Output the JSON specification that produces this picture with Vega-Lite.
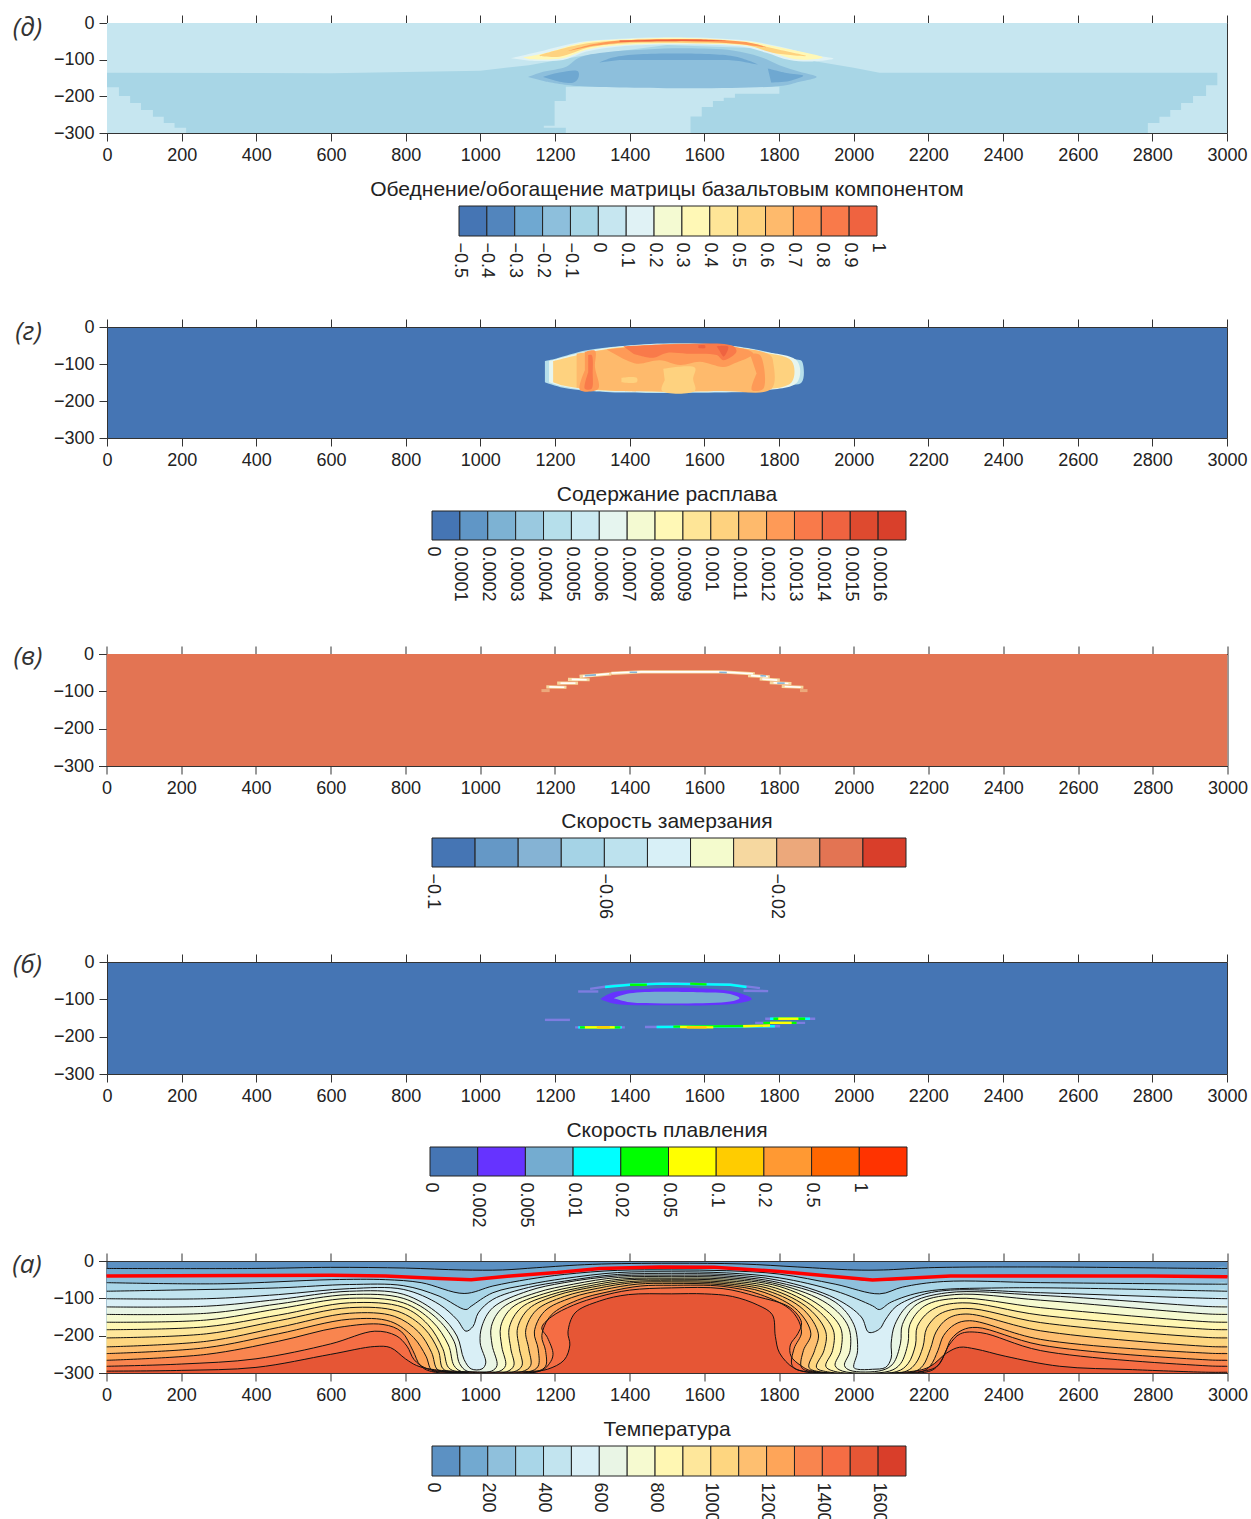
{"$schema":"https://vega.github.io/schema/vega-lite/v6.json","background":"white","padding":{"left":11.5,"top":14,"right":0,"bottom":0},"bounds":"flush","center":true,"spacing":0,"resolve":{"scale":{"fill":"independent","stroke":"independent","x":"independent","y":"independent"}},
"config":{"view":{"stroke":null},"axis":{"grid":false,"domainColor":"#333","tickColor":"#333","tickSize":8,"labelFont":"Liberation Sans","labelFontSize":18,"labelColor":"#222","labelPadding":5,"labelOverlap":false,"labelBound":false,"labelFlush":false},"title":{"font":"Liberation Sans","fontSize":21,"fontWeight":"normal","color":"#222","offset":6}},
"datasets":{
"dp":[{"p":0,"v":0,"x":0,"y":0},{"p":0,"v":0,"x":3000,"y":0},{"p":0,"v":0,"x":3000,"y":-300},{"p":0,"v":0,"x":0,"y":-300},
{"p":1,"v":-0.1,"x":0,"y":-136},{"p":1,"v":-0.1,"x":600,"y":-137},{"p":1,"v":-0.1,"x":1000,"y":-130},{"p":1,"v":-0.1,"x":1130,"y":-115},{"p":1,"v":-0.1,"x":1270,"y":-90},{"p":1,"v":-0.1,"x":1500,"y":-60},{"p":1,"v":-0.1,"x":1770,"y":-70},{"p":1,"v":-0.1,"x":1900,"y":-105},{"p":1,"v":-0.1,"x":2000,"y":-122},{"p":1,"v":-0.1,"x":2069,"y":-136},{"p":1,"v":-0.1,"x":2974,"y":-136},{"p":1,"v":-0.1,"x":2974,"y":-170},{"p":1,"v":-0.1,"x":2944,"y":-170},{"p":1,"v":-0.1,"x":2944,"y":-199},{"p":1,"v":-0.1,"x":2909,"y":-199},{"p":1,"v":-0.1,"x":2909,"y":-218},{"p":1,"v":-0.1,"x":2877,"y":-218},{"p":1,"v":-0.1,"x":2877,"y":-237},{"p":1,"v":-0.1,"x":2848,"y":-237},{"p":1,"v":-0.1,"x":2848,"y":-256},{"p":1,"v":-0.1,"x":2819,"y":-256},{"p":1,"v":-0.1,"x":2819,"y":-273},{"p":1,"v":-0.1,"x":2788,"y":-273},{"p":1,"v":-0.1,"x":2788,"y":-300},{"p":1,"v":-0.1,"x":212,"y":-300},{"p":1,"v":-0.1,"x":212,"y":-286},{"p":1,"v":-0.1,"x":181,"y":-286},{"p":1,"v":-0.1,"x":181,"y":-273},{"p":1,"v":-0.1,"x":152,"y":-273},{"p":1,"v":-0.1,"x":152,"y":-256},{"p":1,"v":-0.1,"x":123,"y":-256},{"p":1,"v":-0.1,"x":123,"y":-237},{"p":1,"v":-0.1,"x":91,"y":-237},{"p":1,"v":-0.1,"x":91,"y":-218},{"p":1,"v":-0.1,"x":62,"y":-218},{"p":1,"v":-0.1,"x":62,"y":-199},{"p":1,"v":-0.1,"x":32,"y":-199},{"p":1,"v":-0.1,"x":32,"y":-175},{"p":1,"v":-0.1,"x":0,"y":-175},
{"p":2,"v":0,"x":1229,"y":-174},{"p":2,"v":0,"x":1801,"y":-174},{"p":2,"v":0,"x":1801,"y":-193},{"p":2,"v":0,"x":1682,"y":-193},{"p":2,"v":0,"x":1682,"y":-204},{"p":2,"v":0,"x":1652,"y":-204},{"p":2,"v":0,"x":1652,"y":-213},{"p":2,"v":0,"x":1623,"y":-213},{"p":2,"v":0,"x":1623,"y":-229},{"p":2,"v":0,"x":1593,"y":-229},{"p":2,"v":0,"x":1593,"y":-255},{"p":2,"v":0,"x":1563,"y":-255},{"p":2,"v":0,"x":1563,"y":-300},{"p":2,"v":0,"x":1229,"y":-300},{"p":2,"v":0,"x":1229,"y":-286},{"p":2,"v":0,"x":1170,"y":-286},{"p":2,"v":0,"x":1170,"y":-280},{"p":2,"v":0,"x":1199,"y":-280},{"p":2,"v":0,"x":1199,"y":-213},{"p":2,"v":0,"x":1229,"y":-213},
{"p":3,"v":-0.2,"x":1128,"y":-147},{"p":3,"v":-0.2,"x":1168,"y":-133},{"p":3,"v":-0.2,"x":1230,"y":-119},{"p":3,"v":-0.2,"x":1266,"y":-94},{"p":3,"v":-0.2,"x":1355,"y":-78},{"p":3,"v":-0.2,"x":1444,"y":-72},{"p":3,"v":-0.2,"x":1551,"y":-69},{"p":3,"v":-0.2,"x":1676,"y":-75},{"p":3,"v":-0.2,"x":1748,"y":-92},{"p":3,"v":-0.2,"x":1801,"y":-115},{"p":3,"v":-0.2,"x":1855,"y":-133},{"p":3,"v":-0.2,"x":1901,"y":-147},{"p":3,"v":-0.2,"x":1855,"y":-160},{"p":3,"v":-0.2,"x":1801,"y":-172},{"p":3,"v":-0.2,"x":1266,"y":-172},{"p":3,"v":-0.2,"x":1177,"y":-160},
{"p":4,"v":-0.3,"x":1318,"y":-108},{"p":4,"v":-0.3,"x":1355,"y":-94},{"p":4,"v":-0.3,"x":1427,"y":-85},{"p":4,"v":-0.3,"x":1623,"y":-85},{"p":4,"v":-0.3,"x":1685,"y":-92},{"p":4,"v":-0.3,"x":1743,"y":-113},{"p":4,"v":-0.3,"x":1685,"y":-103},{"p":4,"v":-0.3,"x":1623,"y":-101},{"p":4,"v":-0.3,"x":1373,"y":-101},
{"p":5,"v":-0.3,"x":1168,"y":-147},{"p":5,"v":-0.3,"x":1212,"y":-135},{"p":5,"v":-0.3,"x":1262,"y":-132},{"p":5,"v":-0.3,"x":1262,"y":-151},{"p":5,"v":-0.3,"x":1248,"y":-163},{"p":5,"v":-0.3,"x":1204,"y":-158},
{"p":6,"v":-0.3,"x":1770,"y":-124},{"p":6,"v":-0.3,"x":1828,"y":-138},{"p":6,"v":-0.3,"x":1865,"y":-144},{"p":6,"v":-0.3,"x":1828,"y":-158},{"p":6,"v":-0.3,"x":1779,"y":-162},
{"p":7,"v":0.1,"x":1083,"y":-96},{"p":7,"v":0.1,"x":1159,"y":-78},{"p":7,"v":0.1,"x":1266,"y":-52},{"p":7,"v":0.1,"x":1355,"y":-44},{"p":7,"v":0.1,"x":1534,"y":-39},{"p":7,"v":0.1,"x":1712,"y":-48},{"p":7,"v":0.1,"x":1801,"y":-64},{"p":7,"v":0.1,"x":1890,"y":-87},{"p":7,"v":0.1,"x":1946,"y":-97},{"p":7,"v":0.1,"x":1890,"y":-105},{"p":7,"v":0.1,"x":1828,"y":-101},{"p":7,"v":0.1,"x":1766,"y":-81},{"p":7,"v":0.1,"x":1712,"y":-66},{"p":7,"v":0.1,"x":1623,"y":-60},{"p":7,"v":0.1,"x":1444,"y":-60},{"p":7,"v":0.1,"x":1355,"y":-66},{"p":7,"v":0.1,"x":1284,"y":-78},{"p":7,"v":0.1,"x":1221,"y":-101},{"p":7,"v":0.1,"x":1132,"y":-103},
{"p":8,"v":0.3,"x":1114,"y":-94},{"p":8,"v":0.3,"x":1177,"y":-81},{"p":8,"v":0.3,"x":1266,"y":-55},{"p":8,"v":0.3,"x":1355,"y":-46},{"p":8,"v":0.3,"x":1534,"y":-40},{"p":8,"v":0.3,"x":1712,"y":-50},{"p":8,"v":0.3,"x":1801,"y":-66},{"p":8,"v":0.3,"x":1917,"y":-94},{"p":8,"v":0.3,"x":1846,"y":-99},{"p":8,"v":0.3,"x":1766,"y":-75},{"p":8,"v":0.3,"x":1712,"y":-62},{"p":8,"v":0.3,"x":1623,"y":-57},{"p":8,"v":0.3,"x":1444,"y":-57},{"p":8,"v":0.3,"x":1355,"y":-62},{"p":8,"v":0.3,"x":1284,"y":-73},{"p":8,"v":0.3,"x":1221,"y":-96},{"p":8,"v":0.3,"x":1132,"y":-99},
{"p":9,"v":0.5,"x":1159,"y":-87},{"p":9,"v":0.5,"x":1266,"y":-59},{"p":9,"v":0.5,"x":1373,"y":-48},{"p":9,"v":0.5,"x":1578,"y":-44},{"p":9,"v":0.5,"x":1712,"y":-54},{"p":9,"v":0.5,"x":1801,"y":-73},{"p":9,"v":0.5,"x":1873,"y":-90},{"p":9,"v":0.5,"x":1783,"y":-81},{"p":9,"v":0.5,"x":1712,"y":-60},{"p":9,"v":0.5,"x":1578,"y":-55},{"p":9,"v":0.5,"x":1400,"y":-55},{"p":9,"v":0.5,"x":1293,"y":-66},{"p":9,"v":0.5,"x":1212,"y":-92},{"p":9,"v":0.5,"x":1159,"y":-90},
{"p":10,"v":0.7,"x":1230,"y":-78},{"p":10,"v":0.7,"x":1284,"y":-62},{"p":10,"v":0.7,"x":1373,"y":-48},{"p":10,"v":0.7,"x":1578,"y":-44},{"p":10,"v":0.7,"x":1712,"y":-52},{"p":10,"v":0.7,"x":1766,"y":-66},{"p":10,"v":0.7,"x":1694,"y":-57},{"p":10,"v":0.7,"x":1578,"y":-51},{"p":10,"v":0.7,"x":1400,"y":-52},{"p":10,"v":0.7,"x":1293,"y":-64},
{"p":11,"v":0.9,"x":1373,"y":-48},{"p":11,"v":0.9,"x":1578,"y":-45},{"p":11,"v":0.9,"x":1658,"y":-49},{"p":11,"v":0.9,"x":1578,"y":-49},{"p":11,"v":0.9,"x":1373,"y":-51}],
"gp":[
{"p":1,"v":0.0004,"x":1173,"y":-92},{"p":1,"v":0.0004,"x":1204,"y":-85},{"p":1,"v":0.0004,"x":1285,"y":-63},{"p":1,"v":0.0004,"x":1374,"y":-52},{"p":1,"v":0.0004,"x":1508,"y":-44},{"p":1,"v":0.0004,"x":1660,"y":-49},{"p":1,"v":0.0004,"x":1749,"y":-63},{"p":1,"v":0.0004,"x":1847,"y":-88},{"p":1,"v":0.0004,"x":1861,"y":-92},{"p":1,"v":0.0004,"x":1861,"y":-149},{"p":1,"v":0.0004,"x":1811,"y":-158},{"p":1,"v":0.0004,"x":1749,"y":-173},{"p":1,"v":0.0004,"x":1642,"y":-177},{"p":1,"v":0.0004,"x":1374,"y":-177},{"p":1,"v":0.0004,"x":1285,"y":-172},{"p":1,"v":0.0004,"x":1222,"y":-164},{"p":1,"v":0.0004,"x":1173,"y":-149},
{"p":2,"v":0.0006,"x":1184,"y":-92},{"p":2,"v":0.0006,"x":1285,"y":-66},{"p":2,"v":0.0006,"x":1374,"y":-53},{"p":2,"v":0.0006,"x":1508,"y":-46},{"p":2,"v":0.0006,"x":1660,"y":-51},{"p":2,"v":0.0006,"x":1749,"y":-65},{"p":2,"v":0.0006,"x":1849,"y":-92},{"p":2,"v":0.0006,"x":1849,"y":-149},{"p":2,"v":0.0006,"x":1749,"y":-172},{"p":2,"v":0.0006,"x":1642,"y":-175},{"p":2,"v":0.0006,"x":1374,"y":-175},{"p":2,"v":0.0006,"x":1285,"y":-170},{"p":2,"v":0.0006,"x":1222,"y":-161},{"p":2,"v":0.0006,"x":1184,"y":-149},
{"p":3,"v":0.001,"x":1195,"y":-92},{"p":3,"v":0.001,"x":1285,"y":-70},{"p":3,"v":0.001,"x":1374,"y":-55},{"p":3,"v":0.001,"x":1508,"y":-48},{"p":3,"v":0.001,"x":1660,"y":-53},{"p":3,"v":0.001,"x":1749,"y":-67},{"p":3,"v":0.001,"x":1834,"y":-92},{"p":3,"v":0.001,"x":1834,"y":-149},{"p":3,"v":0.001,"x":1749,"y":-170},{"p":3,"v":0.001,"x":1642,"y":-173},{"p":3,"v":0.001,"x":1374,"y":-173},{"p":3,"v":0.001,"x":1285,"y":-168},{"p":3,"v":0.001,"x":1222,"y":-158},{"p":3,"v":0.001,"x":1195,"y":-149},
{"p":4,"v":0.0011,"x":1258,"y":-72},{"p":4,"v":0.0011,"x":1374,"y":-58},{"p":4,"v":0.0011,"x":1660,"y":-55},{"p":4,"v":0.0011,"x":1776,"y":-76},{"p":4,"v":0.0011,"x":1785,"y":-99},{"p":4,"v":0.0011,"x":1780,"y":-167},{"p":4,"v":0.0011,"x":1642,"y":-173},{"p":4,"v":0.0011,"x":1374,"y":-173},{"p":4,"v":0.0011,"x":1258,"y":-164},
{"p":5,"v":0.0012,"x":1338,"y":-61},{"p":5,"v":0.0012,"x":1508,"y":-46},{"p":5,"v":0.0012,"x":1678,"y":-53},{"p":5,"v":0.0012,"x":1731,"y":-72},{"p":5,"v":0.0012,"x":1678,"y":-99},{"p":5,"v":0.0012,"x":1651,"y":-108},{"p":5,"v":0.0012,"x":1588,"y":-94},{"p":5,"v":0.0012,"x":1535,"y":-103},{"p":5,"v":0.0012,"x":1481,"y":-90},{"p":5,"v":0.0012,"x":1419,"y":-99},{"p":5,"v":0.0012,"x":1374,"y":-81},
{"p":6,"v":0.0013,"x":1383,"y":-52},{"p":6,"v":0.0013,"x":1508,"y":-47},{"p":6,"v":0.0013,"x":1678,"y":-52},{"p":6,"v":0.0013,"x":1686,"y":-67},{"p":6,"v":0.0013,"x":1651,"y":-90},{"p":6,"v":0.0013,"x":1633,"y":-76},{"p":6,"v":0.0013,"x":1553,"y":-72},{"p":6,"v":0.0013,"x":1499,"y":-70},{"p":6,"v":0.0013,"x":1463,"y":-83},{"p":6,"v":0.0013,"x":1410,"y":-72},
{"p":7,"v":0.0014,"x":1633,"y":-52},{"p":7,"v":0.0014,"x":1664,"y":-53},{"p":7,"v":0.0014,"x":1652,"y":-80},{"p":7,"v":0.0014,"x":1642,"y":-66},
{"p":8,"v":0.0014,"x":1584,"y":-50},{"p":8,"v":0.0014,"x":1602,"y":-50},{"p":8,"v":0.0014,"x":1602,"y":-57},{"p":8,"v":0.0014,"x":1584,"y":-57},
{"p":9,"v":0.0012,"x":1280,"y":-67},{"p":9,"v":0.0012,"x":1307,"y":-64},{"p":9,"v":0.0012,"x":1307,"y":-108},{"p":9,"v":0.0012,"x":1316,"y":-167},{"p":9,"v":0.0012,"x":1267,"y":-170},{"p":9,"v":0.0012,"x":1280,"y":-117},
{"p":10,"v":0.0013,"x":1289,"y":-76},{"p":10,"v":0.0013,"x":1298,"y":-76},{"p":10,"v":0.0013,"x":1301,"y":-126},{"p":10,"v":0.0013,"x":1298,"y":-167},{"p":10,"v":0.0013,"x":1280,"y":-167},{"p":10,"v":0.0013,"x":1289,"y":-122},
{"p":11,"v":0.0012,"x":1722,"y":-72},{"p":11,"v":0.0012,"x":1749,"y":-76},{"p":11,"v":0.0012,"x":1758,"y":-167},{"p":11,"v":0.0012,"x":1727,"y":-170},{"p":11,"v":0.0012,"x":1740,"y":-126},
{"p":12,"v":0.001,"x":1490,"y":-113},{"p":12,"v":0.001,"x":1575,"y":-110},{"p":12,"v":0.001,"x":1570,"y":-140},{"p":12,"v":0.001,"x":1575,"y":-172},{"p":12,"v":0.001,"x":1486,"y":-172},{"p":12,"v":0.001,"x":1494,"y":-144},
{"p":13,"v":0.001,"x":1378,"y":-137},{"p":13,"v":0.001,"x":1419,"y":-137},{"p":13,"v":0.001,"x":1419,"y":-149},{"p":13,"v":0.001,"x":1378,"y":-149}],
"bp":[
{"p":1,"v":0.002,"x":1321,"y":-99},{"p":1,"v":0.002,"x":1356,"y":-81},{"p":1,"v":0.002,"x":1446,"y":-72},{"p":1,"v":0.002,"x":1580,"y":-70},{"p":1,"v":0.002,"x":1687,"y":-81},{"p":1,"v":0.002,"x":1727,"y":-99},{"p":1,"v":0.002,"x":1687,"y":-111},{"p":1,"v":0.002,"x":1490,"y":-116},{"p":1,"v":0.002,"x":1356,"y":-111},{"p":1,"v":0.002,"x":1321,"y":-99},
{"p":2,"v":0.005,"x":1358,"y":-97},{"p":2,"v":0.005,"x":1401,"y":-84},{"p":2,"v":0.005,"x":1580,"y":-81},{"p":2,"v":0.005,"x":1669,"y":-86},{"p":2,"v":0.005,"x":1694,"y":-97},{"p":2,"v":0.005,"x":1669,"y":-106},{"p":2,"v":0.005,"x":1490,"y":-111},{"p":2,"v":0.005,"x":1401,"y":-108},{"p":2,"v":0.005,"x":1358,"y":-97}],
"bs":[{"s":1,"v":"b","x":1294,"y":-72},{"s":1,"v":"b","x":1356,"y":-63},{"s":1,"v":"b","x":1490,"y":-57},{"s":1,"v":"b","x":1669,"y":-60},{"s":1,"v":"b","x":1749,"y":-70},
{"s":2,"v":"b","x":1262,"y":-79},{"s":2,"v":"b","x":1316,"y":-79},{"s":3,"v":"b","x":1705,"y":-77},{"s":3,"v":"b","x":1771,"y":-78},{"s":4,"v":"b","x":1173,"y":-155},{"s":4,"v":"b","x":1240,"y":-155},
{"s":5,"v":"c","x":1334,"y":-67},{"s":5,"v":"c","x":1401,"y":-61},{"s":5,"v":"c","x":1490,"y":-58},{"s":5,"v":"c","x":1669,"y":-61},{"s":5,"v":"c","x":1713,"y":-67},
{"s":6,"v":"g","x":1401,"y":-61},{"s":6,"v":"g","x":1446,"y":-61},{"s":7,"v":"g","x":1562,"y":-58},{"s":7,"v":"g","x":1606,"y":-60},
{"s":8,"v":"b","x":1254,"y":-175},{"s":8,"v":"b","x":1387,"y":-175},{"s":9,"v":"c","x":1262,"y":-175},{"s":9,"v":"c","x":1379,"y":-175},{"s":10,"v":"g","x":1267,"y":-175},{"s":10,"v":"g","x":1375,"y":-175},{"s":11,"v":"y","x":1280,"y":-175},{"s":11,"v":"y","x":1360,"y":-175},{"s":12,"v":"o","x":1312,"y":-175},{"s":12,"v":"o","x":1347,"y":-175},
{"s":13,"v":"b","x":1441,"y":-174},{"s":13,"v":"b","x":1803,"y":-172},{"s":14,"v":"c","x":1472,"y":-174},{"s":14,"v":"c","x":1789,"y":-172},{"s":15,"v":"g","x":1517,"y":-173},{"s":15,"v":"g","x":1758,"y":-171},{"s":16,"v":"y","x":1535,"y":-174},{"s":16,"v":"y","x":1624,"y":-175},{"s":17,"v":"y","x":1704,"y":-172},{"s":17,"v":"y","x":1776,"y":-170},{"s":18,"v":"o","x":1553,"y":-175},{"s":18,"v":"o","x":1606,"y":-175},
{"s":19,"v":"b","x":1736,"y":-163},{"s":19,"v":"b","x":1870,"y":-163},{"s":20,"v":"g","x":1758,"y":-163},{"s":20,"v":"g","x":1847,"y":-163},{"s":21,"v":"y","x":1776,"y":-163},{"s":21,"v":"y","x":1834,"y":-163},
{"s":22,"v":"b","x":1763,"y":-152},{"s":22,"v":"b","x":1897,"y":-152},{"s":23,"v":"c","x":1776,"y":-152},{"s":23,"v":"c","x":1883,"y":-152},{"s":24,"v":"g","x":1785,"y":-152},{"s":24,"v":"g","x":1870,"y":-152},{"s":25,"v":"y","x":1798,"y":-152},{"s":25,"v":"y","x":1852,"y":-152}],
"vc":[{"s":1,"x":1177,"y":-88},{"s":1,"x":1231,"y":-89},{"s":2,"x":1206,"y":-78},{"s":2,"x":1262,"y":-78},{"s":3,"x":1235,"y":-68},{"s":3,"x":1293,"y":-69},{"s":4,"x":1266,"y":-60},{"s":4,"x":1351,"y":-53},{"s":5,"x":1351,"y":-52},{"s":5,"x":1431,"y":-48},{"s":5,"x":1646,"y":-48},{"s":5,"x":1735,"y":-53},{"s":6,"x":1717,"y":-58},{"s":6,"x":1775,"y":-61},{"s":7,"x":1748,"y":-67},{"s":7,"x":1802,"y":-70},{"s":8,"x":1775,"y":-77},{"s":8,"x":1833,"y":-79},{"s":9,"x":1807,"y":-87},{"s":9,"x":1865,"y":-89}],
"vt":[{"s":1,"x":1164,"y":-98},{"s":1,"x":1186,"y":-98},{"s":2,"x":1856,"y":-98},{"s":2,"x":1876,"y":-98}],
"vw":[{"s":1,"v":"w","x":1185,"y":-88},{"s":1,"v":"w","x":1225,"y":-89},{"s":3,"v":"w","x":1215,"y":-78},{"s":3,"v":"w","x":1255,"y":-78},{"s":4,"v":"w","x":1245,"y":-68},{"s":4,"v":"w","x":1285,"y":-69},{"s":5,"v":"w","x":1275,"y":-60},{"s":5,"v":"w","x":1345,"y":-53},{"s":6,"v":"w","x":1351,"y":-51},{"s":6,"v":"w","x":1431,"y":-48},{"s":6,"v":"w","x":1646,"y":-48},{"s":6,"v":"w","x":1730,"y":-53},{"s":7,"v":"w","x":1725,"y":-58},{"s":7,"v":"w","x":1770,"y":-61},{"s":8,"v":"w","x":1755,"y":-67},{"s":8,"v":"w","x":1795,"y":-70},{"s":9,"v":"w","x":1785,"y":-77},{"s":9,"v":"w","x":1825,"y":-79},{"s":10,"v":"w","x":1815,"y":-87},{"s":10,"v":"w","x":1858,"y":-89},
{"s":11,"v":"b","x":1280,"y":-58},{"s":11,"v":"b","x":1310,"y":-56},{"s":12,"v":"b","x":1400,"y":-49},{"s":12,"v":"b","x":1420,"y":-49},{"s":13,"v":"b","x":1640,"y":-49},{"s":13,"v":"b","x":1660,"y":-50},{"s":14,"v":"b","x":1750,"y":-58},{"s":14,"v":"b","x":1765,"y":-59},{"s":15,"v":"b","x":1795,"y":-78},{"s":15,"v":"b","x":1815,"y":-78}],
"red":[{"x":0,"y":-40},{"x":364,"y":-39},{"x":603,"y":-38},{"x":746,"y":-40},{"x":890,"y":-47},{"x":976,"y":-50},{"x":1081,"y":-40},{"x":1206,"y":-31},{"x":1321,"y":-20},{"x":1481,"y":-16},{"x":1626,"y":-17},{"x":1801,"y":-28},{"x":2050,"y":-51},{"x":2259,"y":-40},{"x":2794,"y":-40},{"x":3000,"y":-42}],
"iso":[
{"k":100,"x":0,"y":-20},{"k":100,"x":400,"y":-20},{"k":100,"x":600,"y":-17},{"k":100,"x":800,"y":-19},{"k":100,"x":950,"y":-24},{"k":100,"x":1060,"y":-24},{"k":100,"x":1150,"y":-18},{"k":100,"x":1300,"y":-9},{"k":100,"x":1512,"y":-6},{"k":100,"x":1700,"y":-8},{"k":100,"x":1850,"y":-16},{"k":100,"x":2000,"y":-24},{"k":100,"x":2080,"y":-24},{"k":100,"x":2200,"y":-18},{"k":100,"x":2500,"y":-16},{"k":100,"x":2950,"y":-20},{"k":100,"x":3000,"y":-20},{"k":100,"c":1,"x":3000,"y":-300},{"k":100,"c":1,"x":0,"y":-300},
{"k":200,"x":0,"y":-40},{"k":200,"x":400,"y":-39},{"k":200,"x":600,"y":-38},{"k":200,"x":750,"y":-40},{"k":200,"x":890,"y":-47},{"k":200,"x":980,"y":-50},{"k":200,"x":1080,"y":-40},{"k":200,"x":1200,"y":-31},{"k":200,"x":1320,"y":-20},{"k":200,"x":1512,"y":-16},{"k":200,"x":1626,"y":-17},{"k":200,"x":1800,"y":-28},{"k":200,"x":1950,"y":-42},{"k":200,"x":2050,"y":-52},{"k":200,"x":2260,"y":-40},{"k":200,"x":2800,"y":-40},{"k":200,"x":2950,"y":-42},{"k":200,"x":3000,"y":-42},{"k":200,"c":1,"x":3000,"y":-300},{"k":200,"c":1,"x":0,"y":-300},
{"k":300,"x":0,"y":-58},{"k":300,"x":306,"y":-61},{"k":300,"x":603,"y":-50},{"k":300,"x":746,"y":-50},{"k":300,"x":842,"y":-58},{"k":300,"x":957,"y":-87},{"k":300,"x":1034,"y":-67},{"k":300,"x":1129,"y":-49},{"k":300,"x":1225,"y":-36},{"k":300,"x":1368,"y":-25},{"k":300,"x":1512,"y":-24},{"k":300,"x":1660,"y":-26},{"k":300,"x":1800,"y":-35},{"k":300,"x":1950,"y":-62},{"k":300,"x":2069,"y":-88},{"k":300,"x":2130,"y":-70},{"k":300,"x":2240,"y":-55},{"k":300,"x":2500,"y":-58},{"k":300,"x":2950,"y":-62},{"k":300,"x":3000,"y":-62},{"k":300,"c":1,"x":3000,"y":-300},{"k":300,"c":1,"x":0,"y":-300},
{"k":400,"x":0,"y":-81},{"k":400,"x":172,"y":-78},{"k":400,"x":460,"y":-72},{"k":400,"x":650,"y":-63},{"k":400,"x":794,"y":-66},{"k":400,"x":890,"y":-94},{"k":400,"x":962,"y":-130},{"k":400,"x":976,"y":-121},{"k":400,"x":1034,"y":-85},{"k":400,"x":1129,"y":-63},{"k":400,"x":1225,"y":-47},{"k":400,"x":1368,"y":-31},{"k":400,"x":1512,"y":-29},{"k":400,"x":1660,"y":-32},{"k":400,"x":1800,"y":-45},{"k":400,"x":1950,"y":-80},{"k":400,"x":2050,"y":-120},{"k":400,"x":2068,"y":-130},{"k":400,"x":2100,"y":-110},{"k":400,"x":2190,"y":-82},{"k":400,"x":2400,"y":-72},{"k":400,"x":2950,"y":-80},{"k":400,"x":3000,"y":-81},{"k":400,"c":1,"x":3000,"y":-300},{"k":400,"c":1,"x":0,"y":-300},
{"k":500,"x":0,"y":-101},{"k":500,"x":268,"y":-101},{"k":500,"x":460,"y":-90},{"k":500,"x":650,"y":-74},{"k":500,"x":794,"y":-76},{"k":500,"x":890,"y":-116},{"k":500,"x":938,"y":-157},{"k":500,"x":962,"y":-188},{"k":500,"x":981,"y":-175},{"k":500,"x":995,"y":-139},{"k":500,"x":1034,"y":-103},{"k":500,"x":1129,"y":-71},{"k":500,"x":1225,"y":-54},{"k":500,"x":1368,"y":-36},{"k":500,"x":1512,"y":-34},{"k":500,"x":1650,"y":-36},{"k":500,"x":1800,"y":-52},{"k":500,"x":1950,"y":-100},{"k":500,"x":2020,"y":-150},{"k":500,"x":2040,"y":-191},{"k":500,"x":2069,"y":-182},{"k":500,"x":2084,"y":-158},{"k":500,"x":2113,"y":-122},{"k":500,"x":2181,"y":-91},{"k":500,"x":2259,"y":-78},{"k":500,"x":2500,"y":-85},{"k":500,"x":2950,"y":-100},{"k":500,"x":3000,"y":-101},{"k":500,"c":1,"x":3000,"y":-300},{"k":500,"c":1,"x":0,"y":-300},
{"k":600,"x":0,"y":-123},{"k":600,"x":268,"y":-121},{"k":600,"x":460,"y":-103},{"k":600,"x":650,"y":-81},{"k":600,"x":794,"y":-89},{"k":600,"x":890,"y":-143},{"k":600,"x":938,"y":-201},{"k":600,"x":957,"y":-264},{"k":600,"x":976,"y":-289},{"k":600,"x":1005,"y":-289},{"k":600,"x":1015,"y":-273},{"k":600,"x":1000,"y":-219},{"k":600,"x":1005,"y":-174},{"k":600,"x":1034,"y":-125},{"k":600,"x":1129,"y":-80},{"k":600,"x":1225,"y":-58},{"k":600,"x":1368,"y":-40},{"k":600,"x":1512,"y":-38},{"k":600,"x":1650,"y":-40},{"k":600,"x":1800,"y":-58},{"k":600,"x":1950,"y":-110},{"k":600,"x":2000,"y":-170},{"k":600,"x":2010,"y":-240},{"k":600,"x":2000,"y":-285},{"k":600,"x":2010,"y":-290},{"k":600,"x":2050,"y":-290},{"k":600,"x":2085,"y":-285},{"k":600,"x":2100,"y":-260},{"k":600,"x":2100,"y":-220},{"k":600,"x":2110,"y":-170},{"k":600,"x":2150,"y":-115},{"k":600,"x":2250,"y":-85},{"k":600,"x":2500,"y":-92},{"k":600,"x":2950,"y":-122},{"k":600,"x":3000,"y":-123},{"k":600,"c":1,"x":3000,"y":-300},{"k":600,"c":1,"x":0,"y":-300},
{"k":700,"x":0,"y":-143},{"k":700,"x":268,"y":-140},{"k":700,"x":460,"y":-115},{"k":700,"x":650,"y":-90},{"k":700,"x":794,"y":-100},{"k":700,"x":880,"y":-150},{"k":700,"x":930,"y":-215},{"k":700,"x":945,"y":-275},{"k":700,"x":965,"y":-295},{"k":700,"x":1030,"y":-295},{"k":700,"x":1045,"y":-280},{"k":700,"x":1032,"y":-225},{"k":700,"x":1030,"y":-175},{"k":700,"x":1060,"y":-125},{"k":700,"x":1150,"y":-85},{"k":700,"x":1250,"y":-62},{"k":700,"x":1370,"y":-44},{"k":700,"x":1512,"y":-42},{"k":700,"x":1650,"y":-44},{"k":700,"x":1800,"y":-63},{"k":700,"x":1930,"y":-115},{"k":700,"x":1985,"y":-175},{"k":700,"x":1990,"y":-240},{"k":700,"x":1975,"y":-280},{"k":700,"x":1990,"y":-293},{"k":700,"x":2075,"y":-293},{"k":700,"x":2105,"y":-275},{"k":700,"x":2125,"y":-220},{"k":700,"x":2130,"y":-170},{"k":700,"x":2170,"y":-115},{"k":700,"x":2270,"y":-90},{"k":700,"x":2500,"y":-105},{"k":700,"x":2950,"y":-142},{"k":700,"x":3000,"y":-143},{"k":700,"c":1,"x":3000,"y":-300},{"k":700,"c":1,"x":0,"y":-300},
{"k":800,"x":0,"y":-164},{"k":800,"x":268,"y":-158},{"k":800,"x":460,"y":-128},{"k":800,"x":650,"y":-100},{"k":800,"x":794,"y":-112},{"k":800,"x":870,"y":-160},{"k":800,"x":915,"y":-225},{"k":800,"x":930,"y":-280},{"k":800,"x":950,"y":-296},{"k":800,"x":1050,"y":-296},{"k":800,"x":1068,"y":-280},{"k":800,"x":1058,"y":-230},{"k":800,"x":1055,"y":-175},{"k":800,"x":1085,"y":-125},{"k":800,"x":1170,"y":-88},{"k":800,"x":1270,"y":-65},{"k":800,"x":1380,"y":-48},{"k":800,"x":1512,"y":-46},{"k":800,"x":1650,"y":-48},{"k":800,"x":1800,"y":-68},{"k":800,"x":1910,"y":-120},{"k":800,"x":1965,"y":-180},{"k":800,"x":1965,"y":-240},{"k":800,"x":1950,"y":-280},{"k":800,"x":1970,"y":-295},{"k":800,"x":2095,"y":-295},{"k":800,"x":2125,"y":-275},{"k":800,"x":2145,"y":-220},{"k":800,"x":2150,"y":-170},{"k":800,"x":2190,"y":-120},{"k":800,"x":2280,"y":-100},{"k":800,"x":2500,"y":-125},{"k":800,"x":2950,"y":-163},{"k":800,"x":3000,"y":-164},{"k":800,"c":1,"x":3000,"y":-300},{"k":800,"c":1,"x":0,"y":-300},
{"k":900,"x":0,"y":-184},{"k":900,"x":268,"y":-176},{"k":900,"x":460,"y":-145},{"k":900,"x":650,"y":-112},{"k":900,"x":794,"y":-124},{"k":900,"x":860,"y":-170},{"k":900,"x":900,"y":-235},{"k":900,"x":915,"y":-285},{"k":900,"x":940,"y":-297},{"k":900,"x":1070,"y":-297},{"k":900,"x":1090,"y":-280},{"k":900,"x":1082,"y":-235},{"k":900,"x":1078,"y":-178},{"k":900,"x":1110,"y":-125},{"k":900,"x":1190,"y":-90},{"k":900,"x":1285,"y":-68},{"k":900,"x":1390,"y":-51},{"k":900,"x":1512,"y":-49},{"k":900,"x":1650,"y":-52},{"k":900,"x":1790,"y":-72},{"k":900,"x":1895,"y":-125},{"k":900,"x":1945,"y":-185},{"k":900,"x":1943,"y":-240},{"k":900,"x":1925,"y":-282},{"k":900,"x":1950,"y":-296},{"k":900,"x":2115,"y":-296},{"k":900,"x":2145,"y":-275},{"k":900,"x":2165,"y":-225},{"k":900,"x":2170,"y":-175},{"k":900,"x":2210,"y":-130},{"k":900,"x":2290,"y":-112},{"k":900,"x":2500,"y":-145},{"k":900,"x":2950,"y":-183},{"k":900,"x":3000,"y":-184},{"k":900,"c":1,"x":3000,"y":-300},{"k":900,"c":1,"x":0,"y":-300},
{"k":1000,"x":0,"y":-206},{"k":1000,"x":268,"y":-195},{"k":1000,"x":460,"y":-160},{"k":1000,"x":650,"y":-125},{"k":1000,"x":780,"y":-135},{"k":1000,"x":850,"y":-180},{"k":1000,"x":888,"y":-240},{"k":1000,"x":900,"y":-288},{"k":1000,"x":925,"y":-297},{"k":1000,"x":1090,"y":-297},{"k":1000,"x":1112,"y":-280},{"k":1000,"x":1105,"y":-235},{"k":1000,"x":1100,"y":-180},{"k":1000,"x":1130,"y":-128},{"k":1000,"x":1205,"y":-92},{"k":1000,"x":1300,"y":-70},{"k":1000,"x":1400,"y":-55},{"k":1000,"x":1512,"y":-53},{"k":1000,"x":1650,"y":-56},{"k":1000,"x":1780,"y":-76},{"k":1000,"x":1880,"y":-128},{"k":1000,"x":1925,"y":-190},{"k":1000,"x":1920,"y":-240},{"k":1000,"x":1900,"y":-285},{"k":1000,"x":1930,"y":-297},{"k":1000,"x":2135,"y":-297},{"k":1000,"x":2165,"y":-275},{"k":1000,"x":2185,"y":-230},{"k":1000,"x":2195,"y":-180},{"k":1000,"x":2230,"y":-142},{"k":1000,"x":2300,"y":-127},{"k":1000,"x":2500,"y":-165},{"k":1000,"x":2950,"y":-205},{"k":1000,"x":3000,"y":-206},{"k":1000,"c":1,"x":3000,"y":-300},{"k":1000,"c":1,"x":0,"y":-300},
{"k":1100,"x":0,"y":-230},{"k":1100,"x":268,"y":-215},{"k":1100,"x":460,"y":-178},{"k":1100,"x":650,"y":-140},{"k":1100,"x":770,"y":-148},{"k":1100,"x":835,"y":-190},{"k":1100,"x":870,"y":-245},{"k":1100,"x":885,"y":-290},{"k":1100,"x":910,"y":-297},{"k":1100,"x":1110,"y":-297},{"k":1100,"x":1135,"y":-280},{"k":1100,"x":1130,"y":-235},{"k":1100,"x":1122,"y":-185},{"k":1100,"x":1150,"y":-132},{"k":1100,"x":1225,"y":-95},{"k":1100,"x":1315,"y":-73},{"k":1100,"x":1410,"y":-58},{"k":1100,"x":1512,"y":-56},{"k":1100,"x":1650,"y":-60},{"k":1100,"x":1770,"y":-80},{"k":1100,"x":1865,"y":-130},{"k":1100,"x":1905,"y":-195},{"k":1100,"x":1895,"y":-240},{"k":1100,"x":1880,"y":-285},{"k":1100,"x":1910,"y":-297},{"k":1100,"x":2160,"y":-297},{"k":1100,"x":2185,"y":-280},{"k":1100,"x":2205,"y":-235},{"k":1100,"x":2220,"y":-190},{"k":1100,"x":2250,"y":-155},{"k":1100,"x":2300,"y":-142},{"k":1100,"x":2500,"y":-187},{"k":1100,"x":2950,"y":-229},{"k":1100,"x":3000,"y":-230},{"k":1100,"c":1,"x":3000,"y":-300},{"k":1100,"c":1,"x":0,"y":-300},
{"k":1200,"x":0,"y":-248},{"k":1200,"x":268,"y":-232},{"k":1200,"x":460,"y":-195},{"k":1200,"x":650,"y":-156},{"k":1200,"x":760,"y":-162},{"k":1200,"x":822,"y":-205},{"k":1200,"x":855,"y":-255},{"k":1200,"x":870,"y":-292},{"k":1200,"x":895,"y":-297},{"k":1200,"x":1130,"y":-297},{"k":1200,"x":1155,"y":-282},{"k":1200,"x":1155,"y":-235},{"k":1200,"x":1145,"y":-190},{"k":1200,"x":1172,"y":-135},{"k":1200,"x":1245,"y":-98},{"k":1200,"x":1330,"y":-77},{"k":1200,"x":1420,"y":-62},{"k":1200,"x":1512,"y":-60},{"k":1200,"x":1650,"y":-64},{"k":1200,"x":1760,"y":-84},{"k":1200,"x":1850,"y":-133},{"k":1200,"x":1885,"y":-195},{"k":1200,"x":1865,"y":-240},{"k":1200,"x":1860,"y":-285},{"k":1200,"x":1890,"y":-297},{"k":1200,"x":2180,"y":-297},{"k":1200,"x":2205,"y":-280},{"k":1200,"x":2225,"y":-240},{"k":1200,"x":2240,"y":-200},{"k":1200,"x":2270,"y":-170},{"k":1200,"x":2310,"y":-160},{"k":1200,"x":2500,"y":-210},{"k":1200,"x":2950,"y":-247},{"k":1200,"x":3000,"y":-248},{"k":1200,"c":1,"x":3000,"y":-300},{"k":1200,"c":1,"x":0,"y":-300},
{"k":1300,"x":0,"y":-266},{"k":1300,"x":268,"y":-250},{"k":1300,"x":460,"y":-215},{"k":1300,"x":620,"y":-178},{"k":1300,"x":740,"y":-170},{"k":1300,"x":790,"y":-190},{"k":1300,"x":820,"y":-240},{"k":1300,"x":840,"y":-280},{"k":1300,"x":870,"y":-296},{"k":1300,"x":1150,"y":-296},{"k":1300,"x":1175,"y":-282},{"k":1300,"x":1175,"y":-240},{"k":1300,"x":1165,"y":-200},{"k":1300,"x":1190,"y":-145},{"k":1300,"x":1260,"y":-105},{"k":1300,"x":1345,"y":-82},{"k":1300,"x":1430,"y":-67},{"k":1300,"x":1512,"y":-65},{"k":1300,"x":1650,"y":-68},{"k":1300,"x":1750,"y":-90},{"k":1300,"x":1835,"y":-135},{"k":1300,"x":1860,"y":-190},{"k":1300,"x":1840,"y":-235},{"k":1300,"x":1835,"y":-280},{"k":1300,"x":1865,"y":-296},{"k":1300,"x":2200,"y":-296},{"k":1300,"x":2225,"y":-280},{"k":1300,"x":2245,"y":-245},{"k":1300,"x":2260,"y":-210},{"k":1300,"x":2290,"y":-185},{"k":1300,"x":2330,"y":-178},{"k":1300,"x":2500,"y":-225},{"k":1300,"x":2950,"y":-265},{"k":1300,"x":3000,"y":-266},{"k":1300,"c":1,"x":3000,"y":-300},{"k":1300,"c":1,"x":0,"y":-300},
{"k":1400,"x":0,"y":-282},{"k":1400,"x":200,"y":-276},{"k":1400,"x":400,"y":-262},{"k":1400,"x":600,"y":-222},{"k":1400,"x":718,"y":-188},{"k":1400,"x":775,"y":-200},{"k":1400,"x":804,"y":-228},{"k":1400,"x":823,"y":-264},{"k":1400,"x":852,"y":-286},{"k":1400,"x":890,"y":-295},{"k":1400,"x":1160,"y":-295},{"k":1400,"x":1185,"y":-275},{"k":1400,"x":1195,"y":-250},{"k":1400,"x":1180,"y":-205},{"k":1400,"x":1165,"y":-179},{"k":1400,"x":1190,"y":-150},{"k":1400,"x":1250,"y":-118},{"k":1400,"x":1320,"y":-95},{"k":1400,"x":1400,"y":-78},{"k":1400,"x":1512,"y":-72},{"k":1400,"x":1650,"y":-74},{"k":1400,"x":1740,"y":-95},{"k":1400,"x":1830,"y":-125},{"k":1400,"x":1860,"y":-165},{"k":1400,"x":1850,"y":-195},{"k":1400,"x":1830,"y":-225},{"k":1400,"x":1832,"y":-255},{"k":1400,"x":1858,"y":-280},{"k":1400,"x":1890,"y":-295},{"k":1400,"x":2180,"y":-296},{"k":1400,"x":2225,"y":-280},{"k":1400,"x":2255,"y":-225},{"k":1400,"x":2285,"y":-195},{"k":1400,"x":2340,"y":-192},{"k":1400,"x":2500,"y":-240},{"k":1400,"x":2950,"y":-281},{"k":1400,"x":3000,"y":-282},{"k":1400,"c":1,"x":3000,"y":-300},{"k":1400,"c":1,"x":0,"y":-300},
{"k":1500,"x":0,"y":-295},{"k":1500,"x":200,"y":-293},{"k":1500,"x":400,"y":-285},{"k":1500,"x":600,"y":-250},{"k":1500,"x":718,"y":-229},{"k":1500,"x":760,"y":-232},{"k":1500,"x":800,"y":-262},{"k":1500,"x":830,"y":-280},{"k":1500,"x":870,"y":-290},{"k":1500,"x":950,"y":-296},{"k":1500,"x":1130,"y":-296},{"k":1500,"x":1180,"y":-290},{"k":1500,"x":1225,"y":-265},{"k":1500,"x":1240,"y":-225},{"k":1500,"x":1235,"y":-190},{"k":1500,"x":1254,"y":-139},{"k":1500,"x":1320,"y":-107},{"k":1500,"x":1397,"y":-90},{"k":1500,"x":1512,"y":-88},{"k":1500,"x":1600,"y":-88},{"k":1500,"x":1675,"y":-95},{"k":1500,"x":1743,"y":-118},{"k":1500,"x":1782,"y":-144},{"k":1500,"x":1790,"y":-202},{"k":1500,"x":1801,"y":-246},{"k":1500,"x":1840,"y":-287},{"k":1500,"x":1889,"y":-298},{"k":1500,"x":2161,"y":-295},{"k":1500,"x":2205,"y":-282},{"k":1500,"x":2249,"y":-246},{"k":1500,"x":2283,"y":-231},{"k":1500,"x":2327,"y":-236},{"k":1500,"x":2405,"y":-255},{"k":1500,"x":2551,"y":-282},{"k":1500,"x":2746,"y":-291},{"k":1500,"x":2950,"y":-298},{"k":1500,"x":3000,"y":-298},{"k":1500,"c":1,"x":3000,"y":-300},{"k":1500,"c":1,"x":0,"y":-300}]
},
"vconcat":[
{"width":1120,"height":110,"resolve":{"axis":{"x":"independent","y":"independent"}},"layer":[
{"data":{"name":"dp"},"transform":[{"filter":"datum.p<3"}],"mark":{"type":"line","clip":true,"strokeWidth":0,"order":false},"encoding":{"x":{"field":"x","type":"quantitative","scale":{"domain":[0,3000],"nice":false},"axis":{"values":[0,200,400,600,800,1000,1200,1400,1600,1800,2000,2200,2400,2600,2800,3000],"format":"d","title":null}},"y":{"field":"y","type":"quantitative","scale":{"domain":[-300,0],"nice":false},"axis":{"values":[-300,-200,-100,0],"title":"(д)","titleAngle":0,"titleFont":"Open Sans","titleFontStyle":"italic","titleFontWeight":"normal","titleFontSize":26,"titleColor":"#333","titleX":-80,"titleY":4,"titleAlign":"center","titleBaseline":"middle"}},"fill":{"field":"v","type":"ordinal","legend":null,"scale":{"domain":[-0.5,-0.4,-0.3,-0.2,-0.1,0,0.1,0.2,0.3,0.4,0.5,0.6,0.7,0.8,0.9],"range":["#4575b4","#5285bd","#6fa8d1","#8dbfdc","#a8d6e6","#c6e6f0","#e0f2f5","#f4fad2","#fff8b6","#fee597","#fed27f","#feba6c","#fe9a57","#f97a4a","#ef6340"]}},"detail":{"field":"p"}}},
{"data":{"name":"dp"},"transform":[{"filter":"datum.p>=3"}],"mark":{"type":"line","clip":true,"strokeWidth":0,"order":false,"interpolate":"catmull-rom"},"encoding":{"x":{"field":"x","type":"quantitative","axis":null,"scale":{"domain":[0,3000],"nice":false}},"y":{"field":"y","type":"quantitative","axis":null,"scale":{"domain":[-300,0],"nice":false}},"fill":{"field":"v","type":"ordinal","legend":null,"scale":{"domain":[-0.5,-0.4,-0.3,-0.2,-0.1,0,0.1,0.2,0.3,0.4,0.5,0.6,0.7,0.8,0.9],"range":["#4575b4","#5285bd","#6fa8d1","#8dbfdc","#a8d6e6","#c6e6f0","#e0f2f5","#f4fad2","#fff8b6","#fee597","#fed27f","#feba6c","#fe9a57","#f97a4a","#ef6340"]}},"detail":{"field":"p"}}},
{"data":{"values":[]},"mark":"point","encoding":{"x":{"field":"x","type":"quantitative","scale":{"domain":[0,3000],"nice":false},"axis":{"orient":"top","labels":false,"values":[0,200,400,600,800,1000,1200,1400,1600,1800,2000,2200,2400,2600,2800,3000],"title":null}},"y":{"field":"y","type":"quantitative","scale":{"domain":[-300,0],"nice":false},"axis":{"orient":"right","labels":false,"ticks":false,"title":null}}}}]},
{"width":10,"height":73,"data":{"values":[]},"mark":"point","encoding":{}},
{"width":420,"height":30,"title":"Обеднение/обогащение матрицы базальтовым компонентом","data":{"values":[{"a":-0.5,"b":-0.4},{"a":-0.4,"b":-0.3},{"a":-0.3,"b":-0.2},{"a":-0.2,"b":-0.1},{"a":-0.1,"b":0},{"a":0,"b":0.1},{"a":0.1,"b":0.2},{"a":0.2,"b":0.3},{"a":0.3,"b":0.4},{"a":0.4,"b":0.5},{"a":0.5,"b":0.6},{"a":0.6,"b":0.7},{"a":0.7,"b":0.8},{"a":0.8,"b":0.9},{"a":0.9,"b":1}]},"mark":{"type":"rect","stroke":"#222","strokeWidth":1},"encoding":{"x":{"field":"a","type":"quantitative","scale":{"domain":[-0.5,1],"nice":false,"range":[2,420]},"axis":{"values":[-0.5,-0.4,-0.3,-0.2,-0.1,0,0.1,0.2,0.3,0.4,0.5,0.6,0.7,0.8,0.9,1],"format":"~g","title":null,"domain":false,"ticks":false,"labelAngle":90,"labelAlign":"left","labelBaseline":"middle","labelPadding":6}},"x2":{"field":"b"},"fill":{"field":"a","type":"ordinal","legend":null,"scale":{"range":["#4575b4","#5285bd","#6fa8d1","#8dbfdc","#a8d6e6","#c6e6f0","#e0f2f5","#f4fad2","#fff8b6","#fee597","#fed27f","#feba6c","#fe9a57","#f97a4a","#ef6340"]}}}},
{"width":10,"height":91,"data":{"values":[]},"mark":"point","encoding":{}},
{"width":1120,"height":111,"view":{"fill":"#4575b4"},"resolve":{"axis":{"x":"independent","y":"independent"}},"layer":[
{"data":{"name":"gp"},"mark":{"type":"line","clip":true,"strokeWidth":0,"order":false,"interpolate":"catmull-rom"},"encoding":{"x":{"field":"x","type":"quantitative","scale":{"domain":[0,3000],"nice":false},"axis":{"values":[0,200,400,600,800,1000,1200,1400,1600,1800,2000,2200,2400,2600,2800,3000],"format":"d","title":null}},"y":{"field":"y","type":"quantitative","scale":{"domain":[-300,0],"nice":false},"axis":{"values":[-300,-200,-100,0],"title":"(г)","titleAngle":0,"titleFont":"Open Sans","titleFontStyle":"italic","titleFontWeight":"normal","titleFontSize":26,"titleColor":"#333","titleX":-79,"titleY":4,"titleAlign":"center","titleBaseline":"middle"}},"fill":{"field":"v","type":"ordinal","legend":null,"scale":{"domain":[0,0.0001,0.0002,0.0003,0.0004,0.0005,0.0006,0.0007,0.0008,0.0009,0.001,0.0011,0.0012,0.0013,0.0014,0.0015,0.0016],"range":["#4575b4","#6096c6","#7db2d3","#9ac9e0","#b6dfeb","#cbe9f2","#e6f5ef","#f4fad2","#fff8b6","#fee597","#fed27f","#feba6c","#fe9a57","#f97a4a","#ef6340","#de4a2f","#d9402b"]}},"detail":{"field":"p"}}},
{"data":{"values":[]},"mark":"point","encoding":{"x":{"field":"x","type":"quantitative","scale":{"domain":[0,3000],"nice":false},"axis":{"orient":"top","labels":false,"values":[0,200,400,600,800,1000,1200,1400,1600,1800,2000,2200,2400,2600,2800,3000],"title":null}},"y":{"field":"y","type":"quantitative","scale":{"domain":[-300,0],"nice":false},"axis":{"orient":"right","labels":false,"ticks":false,"title":null}}}}]},
{"width":10,"height":73,"data":{"values":[]},"mark":"point","encoding":{}},
{"width":478,"height":29,"title":"Содержание расплава","data":{"values":[{"a":0,"b":0.0001},{"a":0.0001,"b":0.0002},{"a":0.0002,"b":0.0003},{"a":0.0003,"b":0.0004},{"a":0.0004,"b":0.0005},{"a":0.0005,"b":0.0006},{"a":0.0006,"b":0.0007},{"a":0.0007,"b":0.0008},{"a":0.0008,"b":0.0009},{"a":0.0009,"b":0.001},{"a":0.001,"b":0.0011},{"a":0.0011,"b":0.0012},{"a":0.0012,"b":0.0013},{"a":0.0013,"b":0.0014},{"a":0.0014,"b":0.0015},{"a":0.0015,"b":0.0016},{"a":0.0016,"b":0.0017}]},"mark":{"type":"rect","stroke":"#222","strokeWidth":1},"encoding":{"x":{"field":"a","type":"quantitative","scale":{"domain":[0,0.0017],"nice":false,"range":[4,478]},"axis":{"values":[0,0.0001,0.0002,0.0003,0.0004,0.0005,0.0006,0.0007,0.0008,0.0009,0.001,0.0011,0.0012,0.0013,0.0014,0.0015,0.0016],"format":"~g","title":null,"domain":false,"ticks":false,"labelAngle":90,"labelAlign":"left","labelBaseline":"middle","labelPadding":6}},"x2":{"field":"b"},"fill":{"field":"a","type":"ordinal","legend":null,"scale":{"range":["#4575b4","#6096c6","#7db2d3","#9ac9e0","#b6dfeb","#cbe9f2","#e6f5ef","#f4fad2","#fff8b6","#fee597","#fed27f","#feba6c","#fe9a57","#f97a4a","#ef6340","#de4a2f","#d9402b"]}}}},
{"width":10,"height":114,"data":{"values":[]},"mark":"point","encoding":{}},
{"width":1121,"height":112,"resolve":{"axis":{"x":"independent","y":"independent"}},"layer":[
{"data":{"values":[{"p":0,"x":0,"y":0},{"p":0,"x":3000,"y":0},{"p":0,"x":3000,"y":-300},{"p":0,"x":0,"y":-300}]},"mark":{"type":"line","clip":true,"strokeWidth":0,"fill":"#e37453","order":false},"encoding":{"x":{"field":"x","type":"quantitative","scale":{"domain":[0,3000],"nice":false},"axis":{"values":[0,200,400,600,800,1000,1200,1400,1600,1800,2000,2200,2400,2600,2800,3000],"format":"d","title":null}},"y":{"field":"y","type":"quantitative","scale":{"domain":[-300,0],"nice":false},"axis":{"values":[-300,-200,-100,0],"title":"(в)","titleAngle":0,"titleFont":"Open Sans","titleFontStyle":"italic","titleFontWeight":"normal","titleFontSize":26,"titleColor":"#333","titleX":-79,"titleY":2,"titleAlign":"center","titleBaseline":"middle"}},"detail":{"field":"p"}}},
{"data":{"name":"vt"},"mark":{"type":"line","strokeWidth":3,"color":"#eca87b","order":false},"encoding":{"x":{"field":"x","type":"quantitative","axis":null,"scale":{"domain":[0,3000],"nice":false}},"y":{"field":"y","type":"quantitative","axis":null,"scale":{"domain":[-300,0],"nice":false}},"detail":{"field":"s"}}},
{"data":{"name":"vc"},"mark":{"type":"line","strokeWidth":3.2,"color":"#f6d8a0","order":false},"encoding":{"x":{"field":"x","type":"quantitative","axis":null,"scale":{"domain":[0,3000],"nice":false}},"y":{"field":"y","type":"quantitative","axis":null,"scale":{"domain":[-300,0],"nice":false}},"detail":{"field":"s"}}},
{"data":{"name":"vw"},"mark":{"type":"line","strokeWidth":1.6,"order":false},"encoding":{"x":{"field":"x","type":"quantitative","axis":null,"scale":{"domain":[0,3000],"nice":false}},"y":{"field":"y","type":"quantitative","axis":null,"scale":{"domain":[-300,0],"nice":false}},"detail":{"field":"s"},"stroke":{"field":"v","type":"nominal","legend":null,"scale":{"domain":["w","b"],"range":["#ffffff","#85b3d4"]}}}},
{"data":{"values":[]},"mark":"point","encoding":{"x":{"field":"x","type":"quantitative","scale":{"domain":[0,3000],"nice":false},"axis":{"orient":"top","labels":false,"values":[0,200,400,600,800,1000,1200,1400,1600,1800,2000,2200,2400,2600,2800,3000],"title":null}},"y":{"field":"y","type":"quantitative","scale":{"domain":[-300,0],"nice":false},"axis":{"orient":"right","labels":false,"ticks":false,"title":null}}}}]},
{"width":10,"height":72,"data":{"values":[]},"mark":"point","encoding":{}},
{"width":478,"height":29,"title":"Скорость замерзания","data":{"values":[{"a":-0.1,"b":-0.09},{"a":-0.09,"b":-0.08},{"a":-0.08,"b":-0.07},{"a":-0.07,"b":-0.06},{"a":-0.06,"b":-0.05},{"a":-0.05,"b":-0.04},{"a":-0.04,"b":-0.03},{"a":-0.03,"b":-0.02},{"a":-0.02,"b":-0.01},{"a":-0.01,"b":0},{"a":0,"b":0.01}]},"mark":{"type":"rect","stroke":"#222","strokeWidth":1},"encoding":{"x":{"field":"a","type":"quantitative","scale":{"domain":[-0.1,0.01],"nice":false,"range":[4,478]},"axis":{"values":[-0.1,-0.06,-0.02],"format":"~g","title":null,"domain":false,"ticks":false,"labelAngle":90,"labelAlign":"left","labelBaseline":"middle","labelPadding":6}},"x2":{"field":"b"},"fill":{"field":"a","type":"ordinal","legend":null,"scale":{"range":["#4575b4","#6598c6","#85b3d4","#a5d3e6","#bde2ee","#d8f0f7","#f4fbcd","#f6d8a0","#eca87b","#e37453","#d93e2a"]}}}},
{"width":10,"height":95,"data":{"values":[]},"mark":"point","encoding":{}},
{"width":1120,"height":112,"view":{"fill":"#4575b4"},"resolve":{"axis":{"x":"independent","y":"independent"}},"layer":[
{"data":{"name":"bp"},"mark":{"type":"line","clip":true,"strokeWidth":0,"order":false,"interpolate":"catmull-rom"},"encoding":{"x":{"field":"x","type":"quantitative","scale":{"domain":[0,3000],"nice":false},"axis":{"values":[0,200,400,600,800,1000,1200,1400,1600,1800,2000,2200,2400,2600,2800,3000],"format":"d","title":null}},"y":{"field":"y","type":"quantitative","scale":{"domain":[-300,0],"nice":false},"axis":{"values":[-300,-200,-100,0],"title":"(б)","titleAngle":0,"titleFont":"Open Sans","titleFontStyle":"italic","titleFontWeight":"normal","titleFontSize":26,"titleColor":"#333","titleX":-80,"titleY":2,"titleAlign":"center","titleBaseline":"middle"}},"fill":{"field":"v","type":"ordinal","legend":null,"scale":{"domain":[0,0.002,0.005],"range":["#4575b4","#6633ff","#74acd0"]}},"detail":{"field":"p"}}},
{"data":{"name":"bs"},"mark":{"type":"line","strokeWidth":2.4,"order":false},"encoding":{"x":{"field":"x","type":"quantitative","axis":null,"scale":{"domain":[0,3000],"nice":false}},"y":{"field":"y","type":"quantitative","axis":null,"scale":{"domain":[-300,0],"nice":false}},"detail":{"field":"s"},"stroke":{"field":"v","type":"nominal","legend":null,"scale":{"domain":["b","c","g","y","o"],"range":["#7d7de0","#00ffff","#00ff00","#ffff00","#ffcc00"]}}}},
{"data":{"values":[]},"mark":"point","encoding":{"x":{"field":"x","type":"quantitative","scale":{"domain":[0,3000],"nice":false},"axis":{"orient":"top","labels":false,"values":[0,200,400,600,800,1000,1200,1400,1600,1800,2000,2200,2400,2600,2800,3000],"title":null}},"y":{"field":"y","type":"quantitative","scale":{"domain":[-300,0],"nice":false},"axis":{"orient":"right","labels":false,"ticks":false,"title":null}}}}]},
{"width":10,"height":73,"data":{"values":[]},"mark":"point","encoding":{}},
{"width":480,"height":29,"title":"Скорость плавления","data":{"values":[{"a":"0","b":"0.002"},{"a":"0.002","b":"0.005"},{"a":"0.005","b":"0.01"},{"a":"0.01","b":"0.02"},{"a":"0.02","b":"0.05"},{"a":"0.05","b":"0.1"},{"a":"0.1","b":"0.2"},{"a":"0.2","b":"0.5"},{"a":"0.5","b":"1"},{"a":"1","b":"+"}]},"mark":{"type":"rect","stroke":"#222","strokeWidth":1},"encoding":{"x":{"field":"a","type":"ordinal","scale":{"type":"point","padding":0,"range":[3,480],"domain":["0","0.002","0.005","0.01","0.02","0.05","0.1","0.2","0.5","1","+"]},"axis":{"values":["0","0.002","0.005","0.01","0.02","0.05","0.1","0.2","0.5","1"],"title":null,"domain":false,"ticks":false,"labelAngle":90,"labelAlign":"left","labelBaseline":"middle","labelPadding":6}},"x2":{"field":"b"},"fill":{"field":"a","type":"nominal","legend":null,"scale":{"domain":["0","0.002","0.005","0.01","0.02","0.05","0.1","0.2","0.5","1"],"range":["#4575b4","#6633ff","#74acd0","#00ffff","#00ff00","#ffff00","#ffcc00","#ff9933","#ff6600","#ff3300"]}}}},
{"width":10,"height":85,"data":{"values":[]},"mark":"point","encoding":{}},
{"width":1121,"height":112,"view":{"fill":"#5c91c3"},"resolve":{"axis":{"x":"independent","y":"independent"}},"layer":[
{"data":{"name":"iso"},"mark":{"type":"line","clip":true,"strokeWidth":0,"order":false,"interpolate":"catmull-rom"},"encoding":{"x":{"field":"x","type":"quantitative","scale":{"domain":[0,3000],"nice":false},"axis":{"values":[0,200,400,600,800,1000,1200,1400,1600,1800,2000,2200,2400,2600,2800,3000],"format":"d","title":null}},"y":{"field":"y","type":"quantitative","scale":{"domain":[-300,0],"nice":false},"axis":{"values":[-300,-200,-100,0],"title":"(а)","titleAngle":0,"titleFont":"Open Sans","titleFontStyle":"italic","titleFontWeight":"normal","titleFontSize":26,"titleColor":"#333","titleX":-80,"titleY":3,"titleAlign":"center","titleBaseline":"middle"}},"fill":{"field":"k","type":"ordinal","legend":null,"scale":{"domain":[100,200,300,400,500,600,700,800,900,1000,1100,1200,1300,1400,1500],"range":["#72a9d0","#8fc0dc","#a9d6e8","#c2e4ef","#d9eff6","#e9f5e5","#f6fad0","#fff7b3","#fee79b","#fed680","#febf70","#fea559","#f9854f","#f56d44","#e65635"]}}}},
{"data":{"name":"iso"},"transform":[{"filter":"datum.c!==1"}],"mark":{"type":"line","clip":true,"strokeWidth":1,"color":"#111","order":false,"interpolate":"catmull-rom"},"encoding":{"x":{"field":"x","type":"quantitative","axis":null,"scale":{"domain":[0,3000],"nice":false}},"y":{"field":"y","type":"quantitative","axis":null,"scale":{"domain":[-300,0],"nice":false}},"detail":{"field":"k"}}},
{"data":{"name":"red"},"mark":{"type":"line","strokeWidth":3.5,"color":"#ff0000","order":false},"encoding":{"x":{"field":"x","type":"quantitative","axis":null,"scale":{"domain":[0,3000],"nice":false}},"y":{"field":"y","type":"quantitative","axis":null,"scale":{"domain":[-300,0],"nice":false}}}},
{"data":{"values":[]},"mark":"point","encoding":{"x":{"field":"x","type":"quantitative","scale":{"domain":[0,3000],"nice":false},"axis":{"orient":"top","labels":false,"values":[0,200,400,600,800,1000,1200,1400,1600,1800,2000,2200,2400,2600,2800,3000],"title":null}},"y":{"field":"y","type":"quantitative","scale":{"domain":[-300,0],"nice":false},"axis":{"orient":"right","labels":false,"ticks":false,"title":null}}}}]},
{"width":10,"height":73,"data":{"values":[]},"mark":"point","encoding":{}},
{"width":478,"height":30,"title":"Температура","data":{"values":[{"a":0,"b":100},{"a":100,"b":200},{"a":200,"b":300},{"a":300,"b":400},{"a":400,"b":500},{"a":500,"b":600},{"a":600,"b":700},{"a":700,"b":800},{"a":800,"b":900},{"a":900,"b":1000},{"a":1000,"b":1100},{"a":1100,"b":1200},{"a":1200,"b":1300},{"a":1300,"b":1400},{"a":1400,"b":1500},{"a":1500,"b":1600},{"a":1600,"b":1700}]},"mark":{"type":"rect","stroke":"#222","strokeWidth":1},"encoding":{"x":{"field":"a","type":"quantitative","scale":{"domain":[0,1700],"nice":false,"range":[4,478]},"axis":{"values":[0,200,400,600,800,1000,1200,1400,1600],"format":"d","title":null,"domain":false,"ticks":false,"labelAngle":90,"labelAlign":"left","labelBaseline":"middle","labelPadding":6}},"x2":{"field":"b"},"fill":{"field":"a","type":"ordinal","legend":null,"scale":{"range":["#5c91c3","#72a9d0","#8fc0dc","#a9d6e8","#c2e4ef","#d9eff6","#e9f5e5","#f6fad0","#fff7b3","#fee79b","#fed680","#febf70","#fea559","#f9854f","#f56d44","#e65635","#d93e2a"]}}}}
]}
